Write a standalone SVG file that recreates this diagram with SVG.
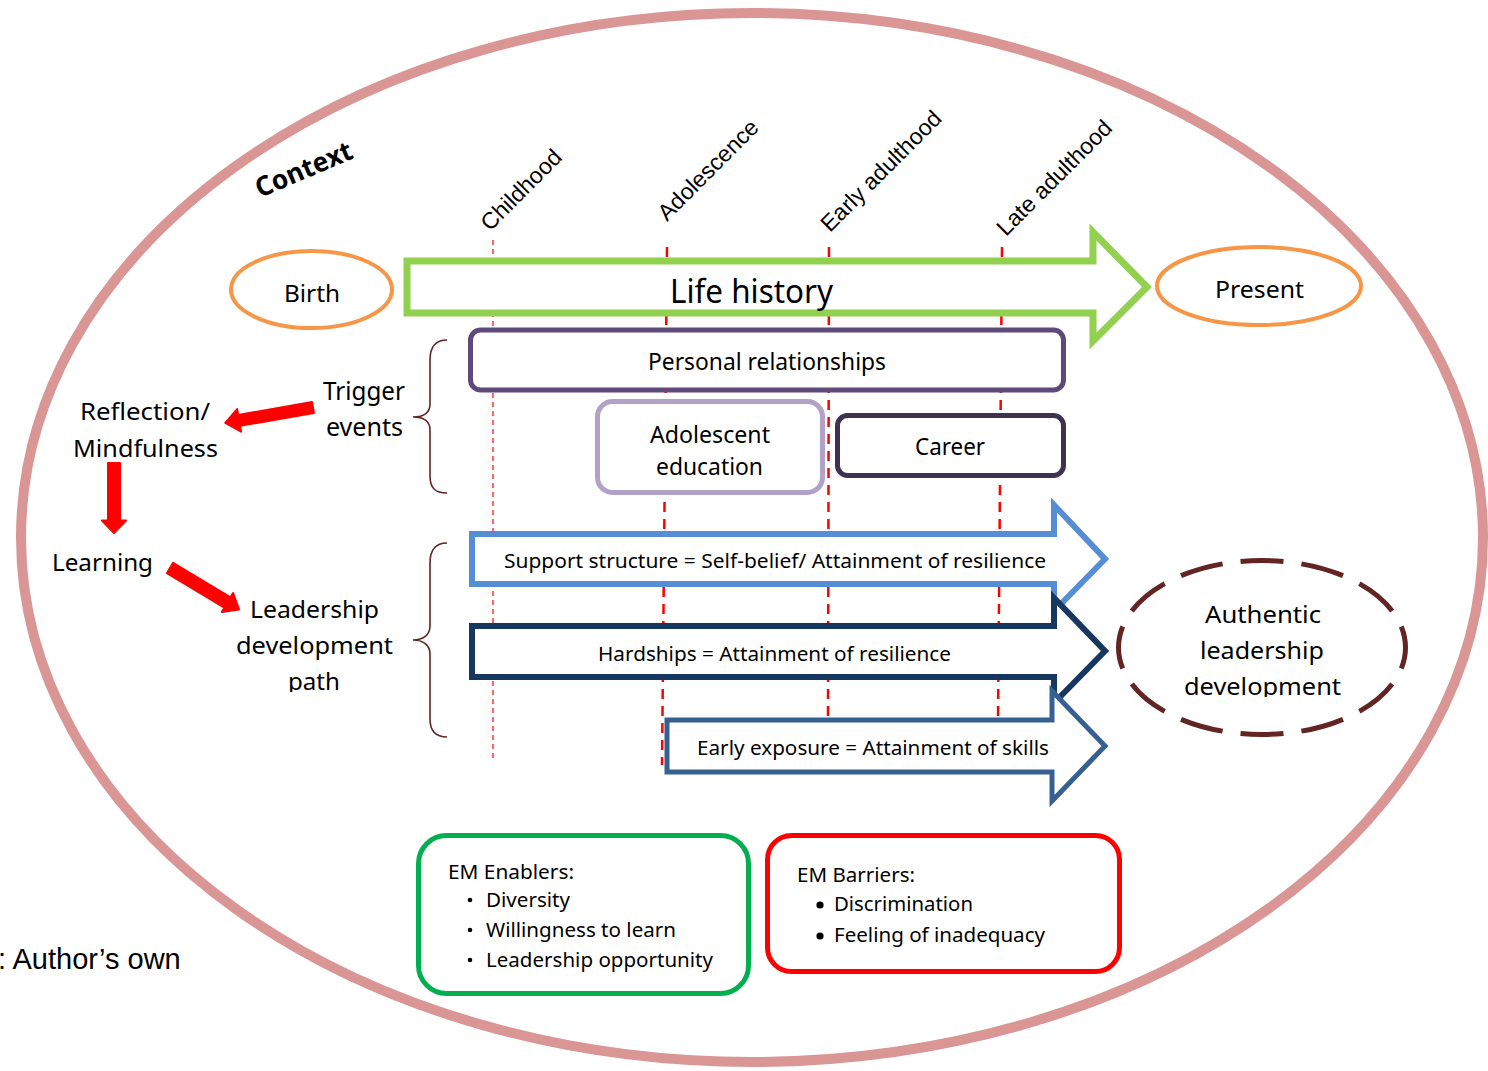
<svg xmlns="http://www.w3.org/2000/svg" width="1488" height="1071" viewBox="0 0 1488 1071">
  <style>
    .cal { font-family: "Noto Sans", "Open Sans", sans-serif; fill: #000; }
    .ari { font-family: "Liberation Sans", Arial, sans-serif; fill: #000; }
    .phase { font-size: 23px; }
    .tick { stroke: #FF0000; fill: none; }
    .brace { fill: none; stroke: #632523; stroke-width: 1.6; }
    .box { fill: #fff; stroke-width: 5; }
    .flow { fill: #fff; stroke-linejoin: miter; }
    .redarrow { fill: #FF0000; stroke: #FF0000; stroke-width: 2; stroke-linejoin: round; }
  </style>
  <defs>
    <clipPath id="clipPath"><rect x="200" y="560" width="230" height="132"/></clipPath>
    <clipPath id="clipAuth"><rect x="1150" y="590" width="230" height="107"/></clipPath>
  </defs>

  <rect width="1488" height="1071" fill="#fff"/>

  <!-- outer context ellipse -->
  <g id="context">
    <ellipse cx="752" cy="537.5" rx="731" ry="524.5" fill="none" stroke="#D99694" stroke-width="10"/>
    <text class="cal" font-weight="bold" font-size="27" x="260" y="198" textLength="103" lengthAdjust="spacingAndGlyphs" transform="rotate(-23 260 198)">Context</text>
  </g>

  <!-- life-stage markers -->
  <g id="stages">
    <line class="tick" x1="493" y1="240" x2="493" y2="760" stroke-width="1.2" stroke-dasharray="5 4"/>
    <line class="tick" x1="667" y1="247" x2="662" y2="765" stroke-width="2.5" stroke-dasharray="10 7"/>
    <line class="tick" x1="829" y1="247" x2="828" y2="720" stroke-width="2.5" stroke-dasharray="10 7"/>
    <line class="tick" x1="1002" y1="247" x2="998" y2="720" stroke-width="2.5" stroke-dasharray="10 7"/>
    <text class="ari phase" x="490" y="232" transform="rotate(-45 490 232)">Childhood</text>
    <text class="ari phase" x="667" y="222" transform="rotate(-45 667 222)">Adolescence</text>
    <text class="ari phase" font-size="23.5" x="830" y="233" transform="rotate(-45 830 233)">Early adulthood</text>
    <text class="ari phase" font-size="24.5" x="1006" y="237" transform="rotate(-45 1006 237)">Late adulthood</text>
  </g>

  <!-- Birth -->
  <g id="birth">
    <ellipse cx="311.5" cy="289.5" rx="80.5" ry="38.5" fill="#fff" stroke="#F79646" stroke-width="4"/>
    <text class="cal" font-size="24" x="284" y="302" textLength="56" lengthAdjust="spacingAndGlyphs">Birth</text>
  </g>

  <!-- Life history arrow -->
  <g id="life-history">
    <path class="flow" d="M407,261 L1093,261 L1093,232 L1147,287 L1093,341 L1093,313 L407,313 Z" stroke="#92D050" stroke-width="7"/>
    <text class="cal" font-size="32" x="670" y="303" textLength="163" lengthAdjust="spacingAndGlyphs">Life history</text>
  </g>

  <!-- Present -->
  <g id="present">
    <ellipse cx="1259" cy="286" rx="102" ry="39" fill="#fff" stroke="#F79646" stroke-width="4"/>
    <text class="cal" font-size="24" x="1215" y="298" textLength="89" lengthAdjust="spacingAndGlyphs">Present</text>
  </g>

  <!-- trigger events -->
  <g id="personal-relationships">
    <rect class="box" x="470.5" y="330" width="593" height="60" rx="10" stroke="#5F497A"/>
    <text class="cal" font-size="23" x="648" y="370" textLength="238" lengthAdjust="spacingAndGlyphs">Personal relationships</text>
  </g>
  <g id="adolescent-education">
    <rect class="box" x="597.5" y="401.5" width="225" height="91" rx="15" stroke="#B3A2C7"/>
    <text class="cal" font-size="23" x="650" y="443" textLength="120" lengthAdjust="spacingAndGlyphs">Adolescent</text>
    <text class="cal" font-size="23" x="656" y="475" textLength="107" lengthAdjust="spacingAndGlyphs">education</text>
  </g>
  <g id="career">
    <rect class="box" x="837.5" y="415.5" width="226" height="60" rx="10" stroke="#3F3151"/>
    <text class="cal" font-size="23" x="915" y="455" textLength="70" lengthAdjust="spacingAndGlyphs">Career</text>
  </g>

  <!-- leadership development path -->
  <g id="support-structure">
    <path class="flow" d="M472,534 L1054,534 L1054,505 L1105,559 L1054,611 L1054,584 L472,584 Z" stroke="#558ED5" stroke-width="6"/>
    <text class="cal" font-size="20" x="504" y="568" textLength="542" lengthAdjust="spacingAndGlyphs">Support structure = Self-belief/ Attainment of resilience</text>
  </g>
  <g id="hardships">
    <path class="flow" d="M472,626 L1054,626 L1054,598 L1105,651 L1054,703 L1054,677 L472,677 Z" stroke="#17375E" stroke-width="6"/>
    <text class="cal" font-size="20" x="598" y="661" textLength="353" lengthAdjust="spacingAndGlyphs">Hardships = Attainment of resilience</text>
  </g>
  <g id="early-exposure">
    <path class="flow" d="M667,720 L1052,720 L1052,691 L1105,746 L1052,801 L1052,772 L667,772 Z" stroke="#376092" stroke-width="5"/>
    <text class="cal" font-size="20" x="697" y="755" textLength="352" lengthAdjust="spacingAndGlyphs">Early exposure = Attainment of skills</text>
  </g>

  <!-- braces -->
  <g id="braces">
    <path class="brace" d="M447,340 C435,340 430,347 430,360 L430,404 C430,413 423,417 413,417 C423,417 430,421 430,430 L430,476 C430,488 435,493 447,493"/>
    <path class="brace" d="M447,543 C435,543 430,550 430,563 L430,626 C430,635 423,640 413,640 C423,640 430,645 430,654 L430,719 C430,731 435,737 447,737"/>
  </g>

  <!-- cycle labels -->
  <g id="trigger-events">
    <text class="cal" font-size="25" x="323" y="400" textLength="82" lengthAdjust="spacingAndGlyphs">Trigger</text>
    <text class="cal" font-size="25" x="326" y="436" textLength="77" lengthAdjust="spacingAndGlyphs">events</text>
  </g>
  <g id="reflection">
    <text class="cal" font-size="24" x="80" y="420" textLength="130" lengthAdjust="spacingAndGlyphs">Reflection/</text>
    <text class="cal" font-size="24" x="73" y="457" textLength="145" lengthAdjust="spacingAndGlyphs">Mindfulness</text>
  </g>
  <g id="learning">
    <text class="cal" font-size="24" x="52" y="571" textLength="101" lengthAdjust="spacingAndGlyphs">Learning</text>
  </g>
  <g id="leadership-path">
    <text class="cal" font-size="24" x="250" y="618" textLength="129" lengthAdjust="spacingAndGlyphs">Leadership</text>
    <text class="cal" font-size="24" x="236" y="654" textLength="157" lengthAdjust="spacingAndGlyphs">development</text>
    <text class="cal" font-size="24" x="288" y="690" textLength="52" lengthAdjust="spacingAndGlyphs" clip-path="url(#clipPath)">path</text>
  </g>

  <!-- red cycle connectors -->
  <g id="connectors">
    <path class="redarrow" transform="translate(313 407.5) rotate(170.1)" d="M0,-5.5 L75,-5.5 L75,-11.5 L89,0 L75,11.5 L75,5.5 L0,5.5 Z"/>
    <path class="redarrow" transform="translate(114 463) rotate(90)" d="M0,-6 L57.5,-6 L57.5,-12 L70,0 L57.5,12 L57.5,6 L0,6 Z"/>
    <path class="redarrow" transform="translate(170 568) rotate(31)" d="M0,-6 L67,-6 L67,-11 L80.5,0 L67,11 L67,6 L0,6 Z"/>
  </g>

  <!-- outcome -->
  <g id="authentic-leadership">
    <ellipse cx="1262" cy="647.5" rx="143.5" ry="87" fill="none" stroke="#632523" stroke-width="5" pathLength="732" stroke-dasharray="43 18" stroke-dashoffset="21.5"/>
    <text class="cal" font-size="24" x="1205" y="623" textLength="116" lengthAdjust="spacingAndGlyphs">Authentic</text>
    <text class="cal" font-size="24" x="1200" y="659" textLength="124" lengthAdjust="spacingAndGlyphs">leadership</text>
    <text class="cal" font-size="24" x="1184" y="695" textLength="157" lengthAdjust="spacingAndGlyphs" clip-path="url(#clipAuth)">development</text>
  </g>

  <!-- enablers and barriers -->
  <g id="em-enablers">
    <rect x="418.5" y="835.5" width="330" height="158" rx="28" fill="#fff" stroke="#00B050" stroke-width="5"/>
    <text class="cal" font-size="19" x="448" y="879" textLength="126" lengthAdjust="spacingAndGlyphs">EM Enablers:</text>
    <circle cx="470" cy="900" r="2.3" fill="#000"/>
    <circle cx="470" cy="930" r="2.3" fill="#000"/>
    <circle cx="470" cy="960" r="2.3" fill="#000"/>
    <text class="cal" font-size="19" x="486" y="907" textLength="84" lengthAdjust="spacingAndGlyphs">Diversity</text>
    <text class="cal" font-size="19" x="486" y="937" textLength="190" lengthAdjust="spacingAndGlyphs">Willingness to learn</text>
    <text class="cal" font-size="19" x="486" y="967" textLength="227" lengthAdjust="spacingAndGlyphs">Leadership opportunity</text>
  </g>
  <g id="em-barriers">
    <rect x="767.5" y="835.5" width="352" height="136" rx="24" fill="#fff" stroke="#FF0000" stroke-width="5"/>
    <text class="cal" font-size="19" x="797" y="882" textLength="118" lengthAdjust="spacingAndGlyphs">EM Barriers:</text>
    <circle cx="820" cy="905" r="3.6" fill="#000"/>
    <circle cx="820" cy="936" r="3.6" fill="#000"/>
    <text class="cal" font-size="19" x="834" y="911" textLength="139" lengthAdjust="spacingAndGlyphs">Discrimination</text>
    <text class="cal" font-size="19" x="834" y="942" textLength="211" lengthAdjust="spacingAndGlyphs">Feeling of inadequacy</text>
  </g>

  <text class="ari" font-size="29" x="-2" y="969">: Author’s own</text>
</svg>
